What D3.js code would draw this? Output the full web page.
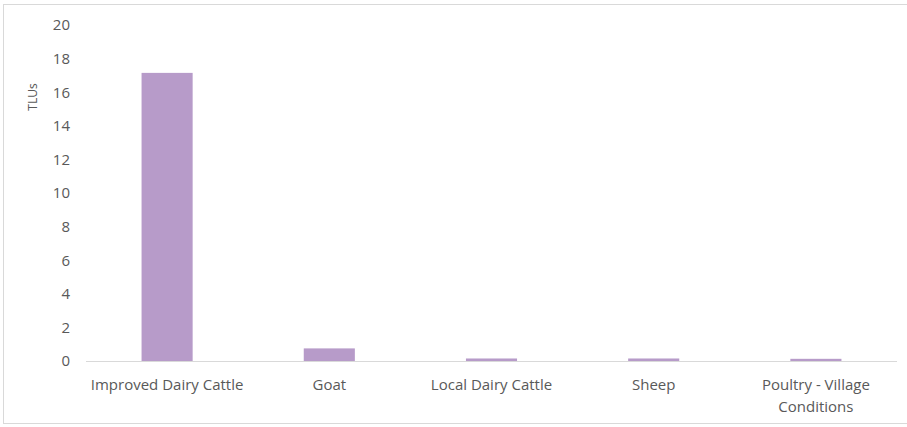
<!DOCTYPE html>
<html>
<head>
<meta charset="utf-8">
<script src="https://cdn.jsdelivr.net/npm/d3@7"></script>
<style>
  body { margin: 0; background: #fff; }
  text { font-family: "Open Sans", "Noto Sans", sans-serif; fill: #595959; }
</style>
</head>
<body>
<script>
// chart values
const categories = ["Improved Dairy Cattle", "Goat", "Local Dairy Cattle", "Sheep", "Poultry - Village Conditions"];
const tlus = [17.15, 0.75, 0.15, 0.15, 0.13];
const yTicks = [0, 2, 4, 6, 8, 10, 12, 14, 16, 18, 20];
const yTitle = "TLUs";

const width = 907, height = 427;
const plotLeft = 86, plotRight = 897, plotTop = 25, plotBottom = 361;

const svg = d3.select("body").append("svg")
    .attr("width", width)
    .attr("height", height);

// outer chart frame
svg.append("rect")
    .attr("x", 3.5).attr("y", 4.5)
    .attr("width", width).attr("height", 419)
    .attr("fill", "none")
    .attr("stroke", "#d9d9d9");

let xScale = d3.scaleBand()
    .domain(categories)
    .range([plotLeft, plotRight])
    .paddingInner(0.685)
    .paddingOuter(0.3425);

let yScale = d3.scaleLinear()
    .domain([0, 20])
    .range([plotBottom, plotTop]);

// y axis labels (no line)
let yAxis = svg.append("g")
    .attr("transform", "translate(" + plotLeft + ",0)")
    .call(d3.axisLeft(yScale).tickValues(yTicks).tickSize(0).tickPadding(16));
yAxis.select(".domain").remove();
yAxis.selectAll("text")
    .style("font-size", "15px")
    .style("font-family", "Open Sans, sans-serif")
    .attr("fill", "#595959");

// bars
svg.selectAll(".bar")
    .data(categories)
    .enter()
    .append("rect")
    .attr("class", "bar")
    .attr("x", d => xScale(d))
    .attr("width", xScale.bandwidth())
    .attr("y", (d, i) => yScale(tlus[i]))
    .attr("height", (d, i) => plotBottom - yScale(tlus[i]))
    .attr("fill", "#b79bc9");

// x axis line
svg.append("line")
    .attr("x1", plotLeft).attr("x2", plotRight)
    .attr("y1", plotBottom + 0.5).attr("y2", plotBottom + 0.5)
    .attr("stroke", "#d9d9d9");

// category labels, wrapped like the original
const wrapped = {"Poultry - Village Conditions": ["Poultry - Village", "Conditions"]};
categories.forEach(function (c) {
    let lines = wrapped[c] || [c];
    let t = svg.append("text")
        .attr("text-anchor", "middle")
        .attr("x", xScale(c) + xScale.bandwidth() / 2)
        .attr("y", 390)
        .style("font-size", "15px");
    lines.forEach(function (l, i) {
        t.append("tspan")
            .attr("x", xScale(c) + xScale.bandwidth() / 2)
            .attr("dy", i === 0 ? 0 : 22)
            .text(l);
    });
});

// y title
svg.append("text")
    .attr("transform", "translate(37,97) rotate(-90)")
    .attr("text-anchor", "middle")
    .style("font-size", "12px")
    .text(yTitle);
</script>
</body>
</html>
